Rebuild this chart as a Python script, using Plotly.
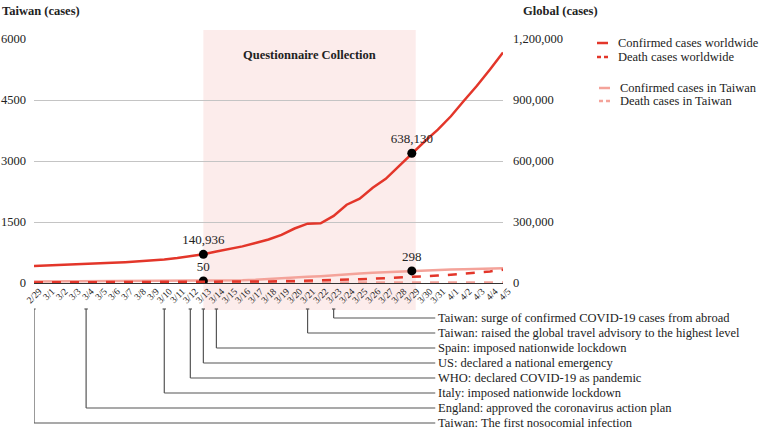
import plotly.graph_objects as go

dates = ["2/29"] + [f"3/{d}" for d in range(1, 32)] + [f"4/{d}" for d in range(1, 6)]

global_confirmed = [84000, 86000, 88500, 91000, 93500, 96000, 99000, 102500, 106000, 110000,
                    116000, 123000, 131000, 140936, 155000, 167000, 180000, 197000, 214000, 237000,
                    268000, 292000, 294000, 330000, 385000, 415000, 468000, 512000, 573000, 638130,
                    697000, 754000, 820000, 896000, 970000, 1050000, 1134000]
global_deaths = [2924, 2977, 3043, 3112, 3198, 3281, 3380, 3486, 3584, 3809,
                 4012, 4292, 4613, 4955, 5393, 5735, 6606, 7426, 7807, 8778,
                 9840, 11184, 12784, 14510, 16231, 18433, 20834, 23335, 26494, 29957,
                 33106, 36405, 40598, 45526, 51485, 57000, 65000]
taiwan_confirmed = [39, 40, 41, 42, 42, 44, 44, 45, 45, 45,
                    47, 48, 49, 50, 53, 59, 67, 77, 100, 108,
                    135, 153, 169, 195, 215, 235, 252, 267, 283, 298,
                    306, 322, 329, 339, 348, 355, 363]
taiwan_deaths = [1, 1, 1, 1, 1, 1, 1, 1, 1, 1,
                 1, 1, 1, 1, 1, 1, 1, 1, 1, 1,
                 1, 2, 2, 2, 2, 2, 2, 2, 2, 2,
                 5, 5, 5, 5, 5, 5, 5]

highlight_dates = ["3/13", "3/29"]
questionnaire = ("3/13", "3/29")

events = [
    ("3/23", "Taiwan: surge of confirmed COVID-19 cases from abroad"),
    ("3/21", "Taiwan: raised the global travel advisory to the highest level"),
    ("3/14", "Spain: imposed nationwide lockdown"),
    ("3/13", "US: declared a national emergency"),
    ("3/12", "WHO: declared COVID-19 as pandemic"),
    ("3/10", "Italy: imposed nationwide lockdown"),
    ("3/4", "England: approved the coronavirus action plan"),
    ("2/29", "Taiwan: The first nosocomial infection"),
]

left_ticks = [0, 1500, 3000, 4500, 6000]
right_ticks = [0, 300000, 600000, 900000, 1200000]

RED = "#E3362A"
PINK = "#F4A39A"
FONT = "Liberation Serif"

W, H = 760, 429
ML, MR, MT, MB = 34, 257, 39, 146
PW, PH = W - ML - MR, H - MT - MB


def px(xp):
    return (xp - ML) / PW


def py(yp):
    return (H - MB - yp) / PH


idx = {d: i for i, d in enumerate(dates)}

fig = go.Figure()
fig.add_trace(go.Scatter(x=dates, y=taiwan_deaths, mode="lines", yaxis="y",
                         line=dict(color=PINK, width=3, dash="dash"), name="Death cases in Taiwan"))
fig.add_trace(go.Scatter(x=dates, y=taiwan_confirmed, mode="lines", yaxis="y",
                         line=dict(color=PINK, width=2.5), name="Confirmed cases in Taiwan"))
fig.add_trace(go.Scatter(x=dates, y=global_deaths, mode="lines", yaxis="y2",
                         line=dict(color=RED, width=2.5, dash="dash"), name="Death cases worldwide"))
fig.add_trace(go.Scatter(x=dates, y=global_confirmed, mode="lines", yaxis="y2",
                         line=dict(color=RED, width=2.5), name="Confirmed cases worldwide"))

hl_tw = [taiwan_confirmed[idx[d]] for d in highlight_dates]
hl_gl = [global_confirmed[idx[d]] for d in highlight_dates]
fig.add_trace(go.Scatter(x=highlight_dates, y=hl_tw, mode="markers+text", yaxis="y",
                         marker=dict(color="black", size=9),
                         text=[f"{v:,}" for v in hl_tw], textposition="top center",
                         textfont=dict(family=FONT, size=13, color="#222")))
fig.add_trace(go.Scatter(x=highlight_dates, y=hl_gl, mode="markers+text", yaxis="y2",
                         marker=dict(color="black", size=9),
                         text=[f"{v:,}" for v in hl_gl], textposition="top center",
                         textfont=dict(family=FONT, size=13, color="#222")))

shapes = []
annotations = []

# questionnaire band
shapes.append(dict(type="rect", xref="x", yref="paper",
                   x0=idx[questionnaire[0]], x1=idx[questionnaire[1]] + 0.3,
                   y0=py(310), y1=py(30), fillcolor="rgba(251,226,224,0.65)",
                   line=dict(width=0), layer="below"))
annotations.append(dict(xref="x", yref="paper", x=(idx[questionnaire[0]] + idx[questionnaire[1]] + 0.3) / 2,
                        y=py(46), text="<b>Questionnaire Collection</b>", showarrow=False,
                        font=dict(family=FONT, size=12.5, color="#222")))

# timeline of events
LABEL_X = 30.8
for k, (d, label) in enumerate(events):
    row = 318 + 15 * k
    xi = idx[d]
    lc = dict(color="#555", width=1.2)
    shapes.append(dict(type="line", xref="x", yref="paper", x0=xi, x1=xi, y0=py(309), y1=py(row), line=lc))
    shapes.append(dict(type="line", xref="x", yref="paper", x0=xi - 0.13, x1=xi + 0.13,
                       y0=py(309), y1=py(309), line=lc))
    shapes.append(dict(type="line", xref="x", yref="paper", x0=xi, x1=LABEL_X, y0=py(row), y1=py(row), line=lc))
    annotations.append(dict(xref="x", yref="paper", x=LABEL_X, y=py(row), xanchor="left", yanchor="middle",
                            xshift=2, text=label, showarrow=False, borderpad=0,
                            font=dict(family=FONT, size=12.5, color="#222")))

# legend (manual)
legend_items = [
    ("Confirmed cases worldwide", RED, "solid", 43, 597),
    ("Death cases worldwide", RED, "dash", 57, 597),
    ("Confirmed cases in Taiwan", PINK, "solid", 88, 599),
    ("Death cases in Taiwan", PINK, "dash", 101, 599),
]
for text, col, dash, yy, xx in legend_items:
    if dash == "solid":
        shapes.append(dict(type="line", xref="paper", yref="paper", x0=px(xx), x1=px(xx + 11),
                           y0=py(yy), y1=py(yy), line=dict(color=col, width=2.5)))
    else:
        for s in (0, 7):
            shapes.append(dict(type="line", xref="paper", yref="paper", x0=px(xx + s), x1=px(xx + s + 4),
                               y0=py(yy), y1=py(yy), line=dict(color=col, width=2.5)))
    annotations.append(dict(xref="paper", yref="paper", x=px(xx + 20), y=py(yy), xanchor="left",
                            yanchor="middle", text=text, showarrow=False, borderpad=0,
                            font=dict(family=FONT, size=12.5, color="#222")))

# axis titles
annotations.append(dict(xref="paper", yref="paper", x=px(0), y=py(11), xanchor="left", yanchor="middle",
                        text="<b>Taiwan (cases)</b>", showarrow=False, font=dict(family=FONT, size=12.5, color="#222")))
annotations.append(dict(xref="paper", yref="paper", x=px(521), y=py(11), xanchor="left", yanchor="middle",
                        text="<b>Global (cases)</b>", showarrow=False, font=dict(family=FONT, size=12.5, color="#222")))

fig.update_layout(
    width=W, height=H, margin=dict(l=ML, r=MR, t=MT, b=MB),
    paper_bgcolor="white", plot_bgcolor="rgba(0,0,0,0)", showlegend=False,
    font=dict(family=FONT, color="#222"),
    xaxis=dict(type="category", range=[0, len(dates) - 1], tickangle=-45, tickfont=dict(size=9.5),
               showgrid=False, zeroline=False, showline=False, ticks="", automargin=False,
               ticklabelshift=5),
    yaxis=dict(range=[0, 6000], tickvals=left_ticks, tickfont=dict(size=12.5), gridcolor="#c4c4c4",
               gridwidth=1, zeroline=True, zerolinecolor="#333", zerolinewidth=1, ticklabelstandoff=7,
               automargin=False),
    yaxis2=dict(range=[0, 1200000], tickvals=right_ticks, tickformat=",", overlaying="y", side="right",
                showgrid=False, zeroline=False, tickfont=dict(size=12.5), ticklabelstandoff=9,
                automargin=False),
    shapes=shapes, annotations=annotations,
)

fig.write_html("out.html", config={"displayModeBar": False},
               post_script="document.body.style.margin='0';document.body.style.overflow='hidden';")
